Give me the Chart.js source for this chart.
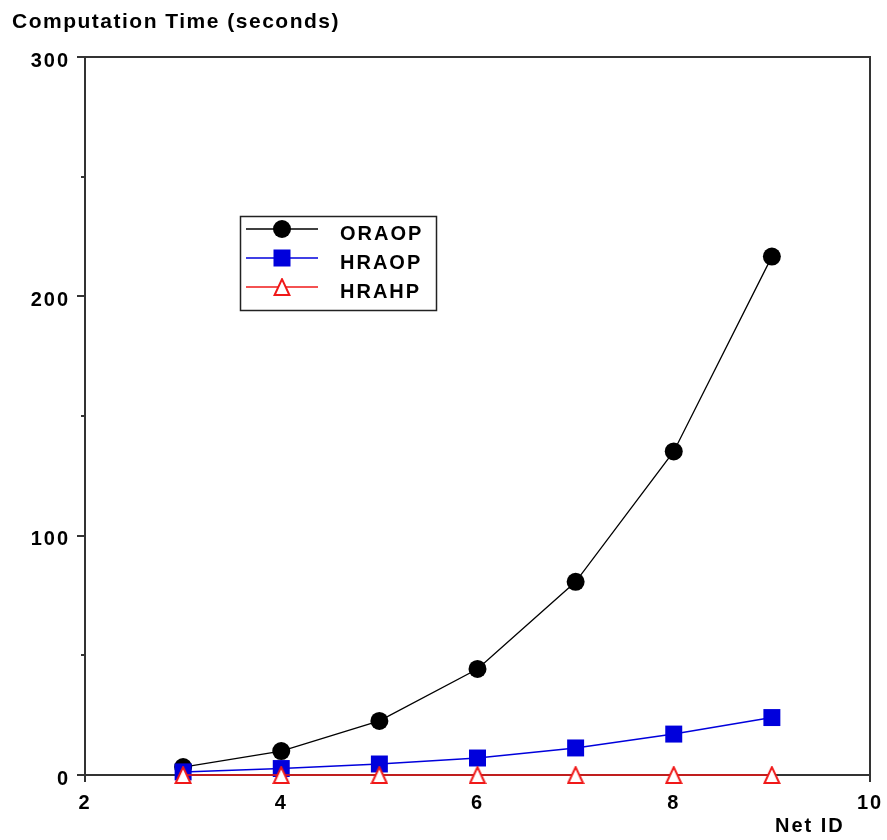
<!DOCTYPE html>
<html><head><meta charset="utf-8">
<script src="https://cdn.jsdelivr.net/npm/chart.js@4.4.1/dist/chart.umd.min.js"></script>
<style>html,body{margin:0;padding:0;background:#fff}</style>
</head><body>
<canvas id="c" width="887" height="840" style="display:block;width:887px;height:840px"></canvas>
<script>
const netIds = [3, 4, 5, 6, 7, 8, 9];
const oraop = [3.3, 10, 22.6, 44.3, 80.7, 135.2, 216.6];
const hraop = [1.3, 2.7, 4.6, 7.1, 11.3, 17.1, 24];
const hrahp = [0, 0, 0, 0, 0, 0, 0];
const seriesNames = ['ORAOP', 'HRAOP', 'HRAHP'];
const xTickValues = [2, 4, 6, 8, 10];
const yTickValues = [0, 50, 100, 150, 200, 250, 300];
const yLabelled = [0, 100, 200, 300];
const titleText = 'Computation Time (seconds)';
const xTitleText = 'Net ID';

const FONT = '"Liberation Sans", Arial, sans-serif';
const BLACK = '#000000', BLUE = '#0000dc', RED = '#f01818';

function triCanvas() {
  const c = document.createElement('canvas');
  c.width = 18; c.height = 18;
  const g = c.getContext('2d');
  g.fillStyle = '#fff'; g.strokeStyle = RED; g.lineWidth = 2;
  g.beginPath(); g.moveTo(9, 1.2); g.lineTo(16.4, 17); g.lineTo(1.6, 17); g.closePath();
  g.fill(); g.stroke();
  return c;
}
const tri = triCanvas();

function pts(ys) { return netIds.map((x, i) => ({ x: x, y: ys[i] })); }

const decor = {
  id: 'decor',
  beforeDraw(chart) { chart.ctx.letterSpacing = '2px'; },
  beforeDatasetsDraw(chart) {
    const ctx = chart.ctx, a = chart.chartArea;
    const xs = chart.scales.x, ys = chart.scales.y;
    ctx.save();
    ctx.strokeStyle = '#333'; ctx.lineWidth = 2;
    ctx.strokeRect(a.left, a.top, a.right - a.left, a.bottom - a.top);
    ctx.beginPath();
    yTickValues.forEach(v => {
      const y = Math.round(ys.getPixelForValue(v));
      const len = yLabelled.includes(v) ? 8 : 4;
      ctx.moveTo(a.left - len, y); ctx.lineTo(a.left, y);
    });
    xTickValues.forEach(v => {
      const x = Math.round(xs.getPixelForValue(v));
      ctx.moveTo(x, a.bottom); ctx.lineTo(x, a.bottom + 7);
    });
    ctx.stroke();
    ctx.restore();
  },
  afterDraw(chart) {
    const ctx = chart.ctx;
    ctx.save();
    ctx.fillStyle = '#000';
    ctx.textAlign = 'left'; ctx.textBaseline = 'alphabetic';
    ctx.font = 'bold 21px ' + FONT;
    ctx.letterSpacing = '1.5px';
    ctx.fillText(titleText, 12, 28);
    ctx.font = 'bold 20px ' + FONT;
    ctx.letterSpacing = '2px';
    ctx.fillText(xTitleText, 775, 832);
    // legend
    ctx.fillStyle = '#fff';
    ctx.fillRect(240.5, 216.5, 196, 94);
    ctx.lineWidth = 1.5; ctx.strokeStyle = '#222';
    ctx.strokeRect(240.5, 216.5, 196, 94);
    const rows = [229, 258, 287];
    chart.data.datasets.forEach((ds, i) => {
      const y = rows[i];
      ctx.strokeStyle = ds.borderColor; ctx.lineWidth = 1.5;
      ctx.beginPath(); ctx.moveTo(246, y); ctx.lineTo(318, y); ctx.stroke();
      if (ds.pointStyle === 'circle') {
        ctx.fillStyle = ds.pointBackgroundColor;
        ctx.beginPath(); ctx.arc(282, y, 9, 0, Math.PI * 2); ctx.fill();
      } else if (ds.pointStyle === 'rect') {
        ctx.fillStyle = ds.pointBackgroundColor;
        ctx.fillRect(273.5, y - 8.5, 17, 17);
      } else {
        ctx.drawImage(ds.pointStyle, 282 - 9, y - 9);
      }
      ctx.fillStyle = '#000';
      ctx.font = 'bold 20px ' + FONT;
      ctx.fillText(ds.label, 340, y + 11);
    });
    ctx.restore();
  }
};

new Chart(document.getElementById('c'), {
  type: 'line',
  data: {
    datasets: [
      { label: seriesNames[0], data: pts(oraop), borderColor: BLACK, borderWidth: 1.3,
        pointStyle: 'circle', pointRadius: 9, pointBackgroundColor: BLACK, pointBorderColor: BLACK,
        pointBorderWidth: 0, tension: 0, order: 3, clip: false },
      { label: seriesNames[1], data: pts(hraop), borderColor: BLUE, borderWidth: 1.5,
        pointStyle: 'rect', pointRadius: 12, pointBackgroundColor: BLUE, pointBorderColor: BLUE,
        pointBorderWidth: 0, tension: 0, order: 2, clip: false },
      { label: seriesNames[2], data: pts(hrahp), borderColor: RED, borderWidth: 1.5,
        pointStyle: tri, pointRadius: 9, pointBackgroundColor: '#fff', pointBorderColor: RED,
        tension: 0, order: 1, clip: false }
    ]
  },
  options: {
    responsive: false, animation: false, devicePixelRatio: 1,
    layout: { padding: { top: 57, right: 17, left: 0, bottom: 0 } },
    plugins: { legend: { display: false }, title: { display: false }, tooltip: { enabled: false } },
    scales: {
      x: {
        type: 'linear', min: 2, max: 10,
        afterBuildTicks(s) { s.ticks = xTickValues.map(v => ({ value: v })); },
        ticks: { color: '#000', font: { family: FONT, size: 20, weight: 'bold' }, padding: 8, maxRotation: 0 },
        grid: { display: false }, border: { display: false },
        afterFit(s) { s.height = 65; s.paddingLeft = 0; s.paddingRight = 0; }
      },
      y: {
        min: 0, max: 300,
        afterBuildTicks(s) { s.ticks = yTickValues.map(v => ({ value: v })); },
        ticks: { color: '#000', font: { family: FONT, size: 20, weight: 'bold' }, padding: 7, labelOffset: 4,
          callback: v => (yLabelled.includes(v) ? String(v) : '') },
        grid: { display: false }, border: { display: false },
        afterFit(s) { s.width = 85; s.paddingTop = 0; s.paddingBottom = 0; }
      }
    }
  },
  plugins: [decor]
});
</script>
</body></html>
